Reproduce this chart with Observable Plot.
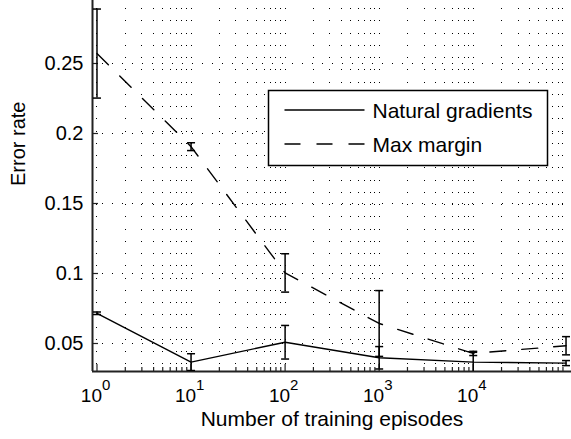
<!DOCTYPE html>
<html><head><meta charset="utf-8">
<script src="https://cdn.jsdelivr.net/npm/d3@7"></script>
<script src="https://cdn.jsdelivr.net/npm/@observablehq/plot@0.6"></script>
<style>
body{margin:0;background:#fff;}
#chart{position:relative;width:571px;height:439px;overflow:hidden;}
</style>
</head><body><div id="chart"></div>
<script>
// ---- data ----
const episodes      = [1, 10, 100, 1000, 10000, 97000];
const naturalMean   = [0.0716, 0.0367, 0.0509, 0.0398, 0.0367, 0.0360];
const naturalErr    = [0.0009, 0.0060, 0.0120, 0.0080, 0.0070, 0.0018];
const marginMean    = [0.2571, 0.1906, 0.1004, 0.0643, 0.0429, 0.0484];
const marginErr     = [0.0318, 0.0028, 0.0137, 0.0235, 0.0015, 0.0065];
const seriesNames   = ["Natural gradients", "Max margin"];
const yTicks        = [0.05, 0.1, 0.15, 0.2, 0.25];
const yTickLabels   = ["0.05", "0.1", "0.15", "0.2", "0.25"];
const xTicks        = [1, 10, 100, 1000, 10000];
const xTickBase     = "10";
const xTickExps     = ["0", "1", "2", "3", "4"];
const minorFactors  = [2, 3, 4, 5, 6, 7, 8, 9];
const xLabel        = "Number of training episodes";
const yLabel        = "Error rate";
const xDomain       = [0.896, 1.109e5];
const yDomain       = [0.03, 0.295];

// ---- layout ----
const W = 571, H = 439, mL = 92, mR = 0, mT = 0, mB = 68;
const plotW = W - mL - mR, plotH = H - mT - mB;
const font = "'Liberation Sans', Arial, Helvetica, sans-serif";

const rows = episodes.flatMap((x, i) => [
  {series: seriesNames[0], x, mean: naturalMean[i], lo: naturalMean[i] - naturalErr[i], hi: naturalMean[i] + naturalErr[i]},
  {series: seriesNames[1], x, mean: marginMean[i], lo: marginMean[i] - marginErr[i], hi: marginMean[i] + marginErr[i]}
]);
const minorTicks = xTicks.flatMap(t => minorFactors.map(f => f * t)).filter(v => v < xDomain[1]);
const capSymbol = {draw(ctx, size) { const r = Math.sqrt(size / Math.PI); ctx.moveTo(-r, 0); ctx.lineTo(r, 0); }};

const plot = Plot.plot({
  width: W, height: H,
  marginLeft: mL, marginRight: mR, marginTop: mT, marginBottom: mB,
  style: {fontFamily: font, fontSize: "20px", background: "#fff", color: "#000", overflow: "visible"},
  x: {type: "log", domain: xDomain, axis: null},
  y: {domain: yDomain, axis: null},
  marks: [
    // dotted grid
    Plot.ruleX(xTicks.concat(minorTicks), {x: d => d, stroke: "#000", strokeWidth: 1, strokeDasharray: "1.2,11.05", strokeDashoffset: 4.25, shapeRendering: "crispEdges"}),
    Plot.ruleY(yTicks, {y: d => d, stroke: "#000", strokeWidth: 1, strokeDasharray: "1.2,8.8", shapeRendering: "crispEdges"}),
    // axis lines
    Plot.ruleX([xDomain[0]], {x: d => d, stroke: "#222", strokeWidth: 2}),
    Plot.ruleY([yDomain[0]], {y: d => d, stroke: "#222", strokeWidth: 2}),
    // inward ticks
    Plot.tickY(yTicks, {y: d => d, insetRight: plotW - 6, stroke: "#222", strokeWidth: 1.2}),
    Plot.tickX(xTicks, {x: d => d, insetTop: plotH - 7, stroke: "#222", strokeWidth: 1.2}),
    Plot.tickX(minorTicks, {x: d => d, insetTop: plotH - 4, stroke: "#222", strokeWidth: 1.2}),
    // error bars
    Plot.ruleX(rows, {x: "x", y1: "lo", y2: "hi", stroke: "#000", strokeWidth: 1.5, clip: true}),
    Plot.dot(rows, {x: "x", y: "lo", symbol: capSymbol, r: 4, stroke: "#000", strokeWidth: 1.5, fill: "none", clip: true}),
    Plot.dot(rows, {x: "x", y: "hi", symbol: capSymbol, r: 4, stroke: "#000", strokeWidth: 1.5, fill: "none", clip: true}),
    // lines
    Plot.line(rows, {filter: d => d.series === seriesNames[0], x: "x", y: "mean", stroke: "#000", strokeWidth: 1.4}),
    Plot.line(rows, {filter: d => d.series === seriesNames[1], x: "x", y: "mean", stroke: "#000", strokeWidth: 1.4, strokeDasharray: "16,16"}),
    // tick labels
    Plot.text(yTicks, {y: d => d, frameAnchor: "left", text: (d, i) => yTickLabels[i], textAnchor: "end", dx: -9, fontSize: 20, fill: "#000"}),
    Plot.text(xTicks, {x: d => d, frameAnchor: "bottom", text: () => xTickBase, textAnchor: "end", dx: 5, dy: 30, fontSize: 19, fill: "#000"}),
    Plot.text(xTicks, {x: d => d, frameAnchor: "bottom", text: (d, i) => xTickExps[i], textAnchor: "start", dx: 5, dy: 18, fontSize: 15, fill: "#000"}),
    // axis titles
    Plot.text([xLabel], {frameAnchor: "bottom", text: d => d, dy: 54, fontSize: 21, fill: "#000"}),
    Plot.text([yLabel], {frameAnchor: "left", text: d => d, rotate: -90, dx: -74, fontSize: 20, fill: "#000"})
  ]
});
document.getElementById("chart").appendChild(plot);

// ---- legend inside the axes ----
const svg = d3.select(plot);
const lg = svg.append("g").attr("font-family", font).attr("font-size", 21).attr("text-anchor", "start");
const box = {x: 268.5, y: 90.5, w: 279, h: 75};
lg.append("rect").attr("x", box.x).attr("y", box.y).attr("width", box.w).attr("height", box.h)
  .attr("fill", "#fff").attr("stroke", "#000").attr("stroke-width", 1.5);
const dashes = [null, "16,16"];
seriesNames.forEach((name, i) => {
  const cy = box.y + 19.5 + i * 34;
  lg.append("line").attr("x1", box.x + 16).attr("x2", box.x + 96).attr("y1", cy).attr("y2", cy)
    .attr("stroke", "#000").attr("stroke-width", 1.4).attr("stroke-dasharray", dashes[i]);
  lg.append("text").attr("x", box.x + 104).attr("y", cy).attr("dy", "0.36em").attr("fill", "#000").attr("text-anchor", "start").text(name);
});
</script>
</body></html>
